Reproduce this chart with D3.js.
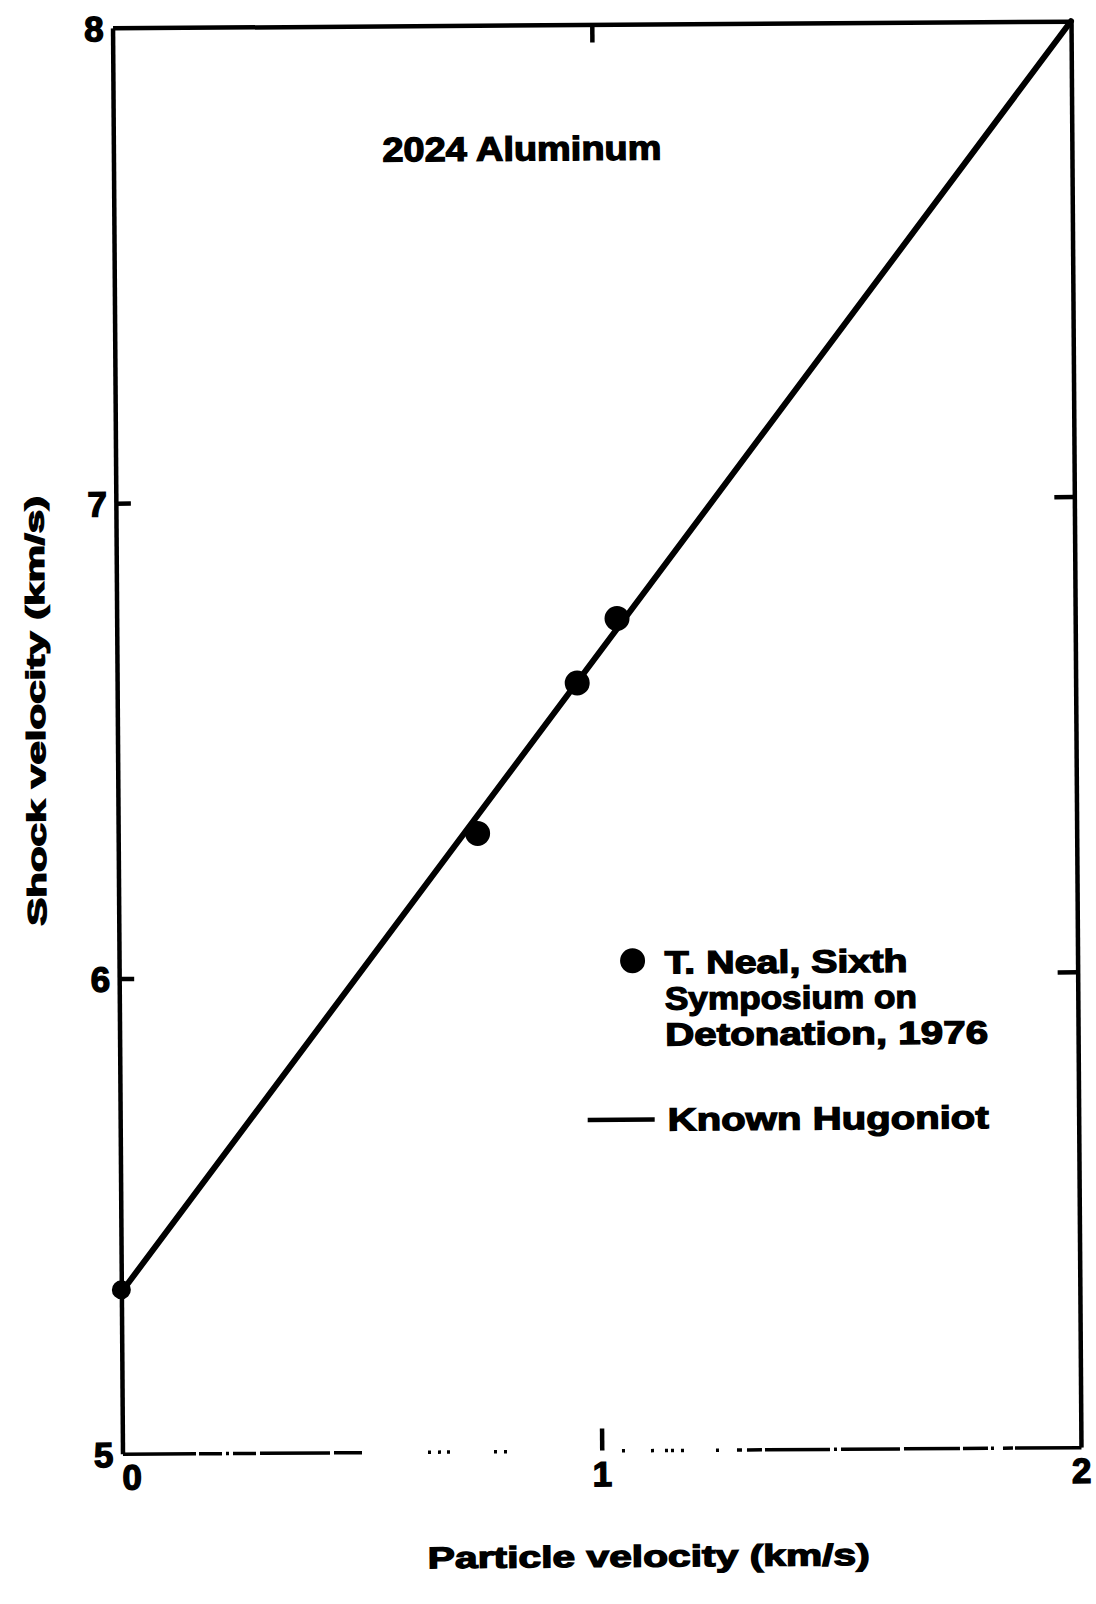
<!DOCTYPE html>
<html>
<head>
<meta charset="utf-8">
<script src="https://cdn.jsdelivr.net/npm/d3@7"></script>
<style>
  body { margin: 0; background: #fff; }
  text { font-family: "Liberation Sans", Arial, sans-serif; font-weight: bold; fill: #000; }
</style>
</head>
<body>
<script>
// Known Hugoniot for 2024 aluminum (end points)
const hugoniotU = [0, 2];
const hugoniotUs = [5.34, 8.0];

// T. Neal data points
const nealU = [0.75, 0.96, 1.044];
const nealUs = [6.30, 6.615, 6.75];

// dot where the Hugoniot starts on the left axis
const originU = [0];
const originUs = [5.345];

const xTicks = [0, 1, 2];
const yTicks = [5, 6, 7, 8];
const innerYTicks = [6, 7];
const innerXTicks = [1];

const title = "2024 Aluminum";
const xTitle = "Particle velocity (km/s)";
const yTitle = "Shock velocity (km/s)";
const legendPointLines = ["T. Neal, Sixth", "Symposium on", "Detonation, 1976"];
const legendLineLabel = "Known Hugoniot";

const W = 1096, H = 1604;
const plotLeft = 117.5, plotRight = 1076, plotTop = 24.5, plotBottom = 1450.5;

const x = d3.scaleLinear().domain([0, 2]).range([plotLeft, plotRight]);
const y = d3.scaleLinear().domain([5, 8]).range([plotBottom, plotTop]);

const svg = d3.select("body").append("svg")
    .attr("width", W)
    .attr("height", H);

// the scanned page sits a little crooked
const g = svg.append("g")
    .attr("transform", "rotate(-0.4, 597, 737)");

// broken-up bottom axis line of the scan (screen x of the pieces still inked)
const bottomInk = [[123,196],[199,222],[226,229],[233,256],[260,330],[334,362],[428,431],[438,441],
    [447,450],[494,497],[504,507],[622,625],[651,654],[665,668],[671,674],[681,684],[716,719],
    [737,742],[747,762],[765,830],[834,837],[841,900],[904,960],[963,988],[991,994],[1003,1013],[1015,1090]];
const dash = [];
bottomInk.forEach((s, i) => {
    dash.push(s[1] - s[0]);
    if (i < bottomInk.length - 1) dash.push(bottomInk[i + 1][0] - s[1]);
});

// Axes
const leftAxis = g.append("g")
    .attr("transform", `translate(${plotLeft},0)`)
    .call(d3.axisLeft(y).tickValues(yTicks).tickSizeInner(-15).tickSizeOuter(0).tickPadding(9).tickFormat(d3.format("d")));

const rightAxis = g.append("g")
    .attr("transform", `translate(${plotRight},0)`)
    .call(d3.axisRight(y).tickValues(innerYTicks).tickSizeInner(-20).tickSizeOuter(0).tickFormat(""));

const topAxis = g.append("g")
    .attr("transform", `translate(0,${plotTop})`)
    .call(d3.axisTop(x).tickValues(innerXTicks).tickSizeInner(-18).tickSizeOuter(0).tickFormat(""));

const bottomAxis = g.append("g")
    .attr("transform", `translate(0,${plotBottom})`)
    .call(d3.axisBottom(x).tickValues(xTicks).tickSizeInner(-22).tickSizeOuter(0).tickPadding(14).tickFormat(d3.format("d")));

[leftAxis, rightAxis, topAxis, bottomAxis].forEach(a => {
    a.select(".domain").attr("stroke", "#000").attr("stroke-width", 4.5);
    a.selectAll(".tick line").attr("stroke", "#000").attr("stroke-width", 4.5);
    a.selectAll(".tick text")
        .style("font-family", "'Liberation Sans', Arial, sans-serif")
        .style("font-weight", "bold")
        .style("font-size", "35px")
        .attr("fill", "#000").attr("stroke", "#000").attr("stroke-width", 1.4);
});
bottomAxis.select(".domain").attr("stroke-width", 3.5).attr("stroke-dasharray", dash.join(" "));
bottomAxis.selectAll(".tick line").filter(d => d !== 1).remove();
bottomAxis.selectAll(".tick text").attr("dy", "0.62em").attr("dx", d => d === 0 ? 9 : 0);
leftAxis.selectAll(".tick line").filter(d => d === 5 || d === 8).remove();
leftAxis.selectAll(".tick text").attr("dy", "0.36em");

// Known Hugoniot line
const hugoniot = hugoniotU.map((u, i) => [u, hugoniotUs[i]]);
g.append("path")
    .datum(hugoniot)
    .attr("fill", "none")
    .attr("stroke", "#000")
    .attr("stroke-width", 6)
    .attr("stroke-linecap", "round")
    .attr("d", d3.line().x(d => x(d[0])).y(d => y(d[1])));

// data points
g.selectAll("circle.neal")
    .data(nealU.map((u, i) => [u, nealUs[i]]))
    .join("circle")
    .attr("class", "neal")
    .attr("cx", d => x(d[0]))
    .attr("cy", d => y(d[1]))
    .attr("r", 12.5)
    .attr("fill", "#000");

g.selectAll("circle.origin")
    .data(originU.map((u, i) => [u, originUs[i]]))
    .join("circle")
    .attr("class", "origin")
    .attr("cx", d => x(d[0]))
    .attr("cy", d => y(d[1]))
    .attr("r", 9.5)
    .attr("fill", "#000");

// Title inside plot
g.append("text")
    .attr("x", 526).attr("y", 160)
    .attr("text-anchor", "middle")
    .attr("textLength", 279).attr("lengthAdjust", "spacingAndGlyphs")
    .style("font-size", "34px")
    .attr("stroke", "#000").attr("stroke-width", 1.3)
    .text(title);

// Axis titles
g.append("text")
    .attr("x", 643).attr("y", 1567)
    .attr("text-anchor", "middle")
    .attr("textLength", 442).attr("lengthAdjust", "spacingAndGlyphs")
    .style("font-size", "30px")
    .attr("stroke", "#000").attr("stroke-width", 1.3)
    .text(xTitle);

g.append("text")
    .attr("transform", "translate(45,707) rotate(-90)")
    .attr("text-anchor", "middle")
    .attr("textLength", 430).attr("lengthAdjust", "spacingAndGlyphs")
    .style("font-size", "26px")
    .attr("stroke", "#000").attr("stroke-width", 1.3)
    .text(yTitle);

// Legend
const legend = g.append("g");
legend.append("circle")
    .attr("cx", 631).attr("cy", 961)
    .attr("r", 12.5)
    .attr("fill", "#000");

const legendWidths = [243, 252, 323];
legendPointLines.forEach((t, i) => {
    legend.append("text")
        .attr("x", 663).attr("y", 974 + i * 36)
        .attr("textLength", legendWidths[i]).attr("lengthAdjust", "spacingAndGlyphs")
        .style("font-size", "32px")
        .attr("stroke", "#000").attr("stroke-width", 1.3)
        .text(t);
});

legend.append("line")
    .attr("x1", 585).attr("x2", 652)
    .attr("y1", 1120).attr("y2", 1120)
    .attr("stroke", "#000")
    .attr("stroke-width", 4.5);

legend.append("text")
    .attr("x", 665).attr("y", 1131)
    .attr("textLength", 321).attr("lengthAdjust", "spacingAndGlyphs")
    .style("font-size", "32px")
    .attr("stroke", "#000").attr("stroke-width", 1.3)
    .text(legendLineLabel);
</script>
</body>
</html>
